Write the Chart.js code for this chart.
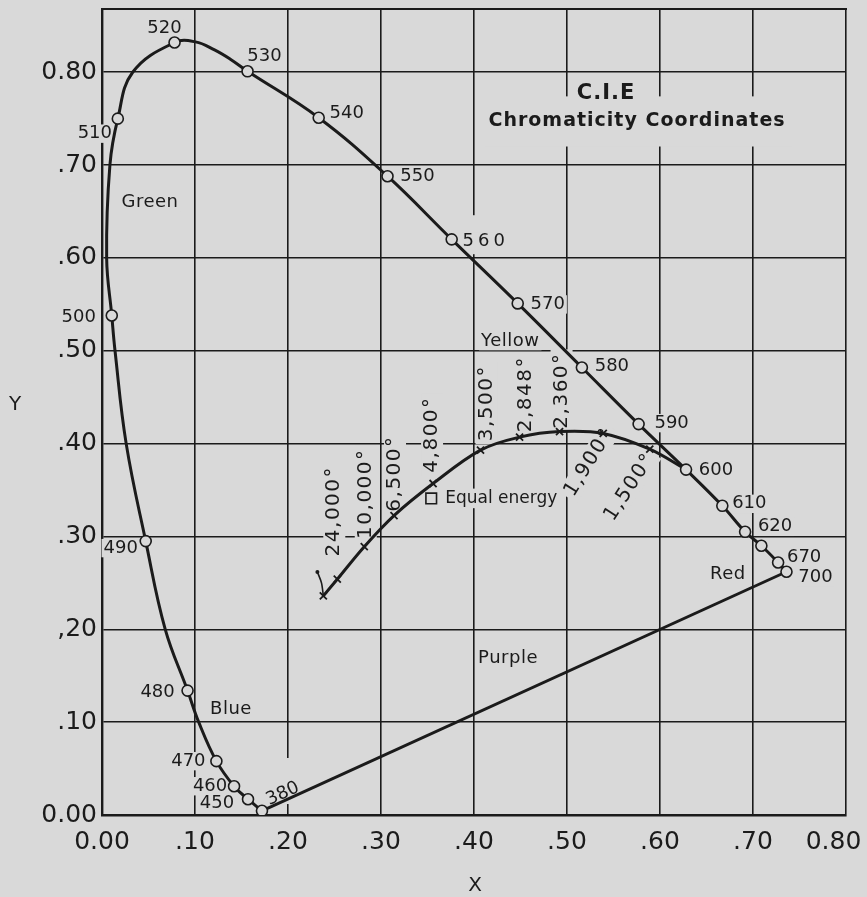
<!DOCTYPE html>
<html lang="en">
<head>
<meta charset="UTF-8" />
<title>C.I.E Chromaticity Coordinates</title>
<script src="https://cdn.jsdelivr.net/npm/chart.js"></script>
<style>
  html, body { margin: 0; padding: 0; background: #d9d9d9; }
  #wrap { width: 867px; height: 897px; }
</style>
</head>
<body>
<div id="wrap"><canvas id="cie" width="867" height="897"></canvas></div>
<script>
// spectral locus; null label = traced point on the curve (no circle)
const locusX = [0.172, 0.157, 0.142, 0.123, 0.104, 0.092, 0.068, 0.047, 0.026, 0.014, 0.0105,
  0.005, 0.0085, 0.017, 0.033, 0.078, 0.1005, 0.121, 0.138, 0.1565, 0.233, 0.307,
  0.376, 0.447, 0.516, 0.577, 0.628, 0.667, 0.6915, 0.709, 0.727, 0.736];
const locusY = [0.0045, 0.017, 0.031, 0.058, 0.100, 0.134, 0.200, 0.295, 0.400, 0.500, 0.538,
  0.600, 0.700, 0.750, 0.800, 0.832, 0.8327, 0.824, 0.814, 0.801, 0.751, 0.688,
  0.620, 0.551, 0.482, 0.421, 0.372, 0.333, 0.305, 0.290, 0.272, 0.262];
const locusLabels = ['380', '450', '460', '470', null, '480', null, '490', null, null, '500',
  null, null, '510', null, '520', null, null, null, '530', '540', '550',
  '560', '570', '580', '590', '600', '610', '620', '', '670', '700'];

// black body locus (null = end point on the 600 circle, no mark)
const planckX = [0.238, 0.253, 0.282, 0.314, 0.356, 0.407, 0.449, 0.492, 0.539, 0.589, 0.628];
const planckY = [0.236, 0.254, 0.289, 0.3225, 0.357, 0.393, 0.407, 0.413, 0.411, 0.394, 0.372];
const planckLabels = ['', '24,000°', '10,000°', '6,500°', '4,800°', '3,500°', '2,848°', '2,360°',
  '1,900°', '1,500°', null];

// little pen scribble at the blue end of the black body curve
const scribbleX = [0.2316, 0.236, 0.238];
const scribbleY = [0.2617, 0.250, 0.236];

const purpleX = [0.172, 0.736];
const purpleY = [0.0045, 0.262];

const equalEnergyX = [0.354];
const equalEnergyY = [0.341];

const xTickLabels = ['0.00', '.10', '.20', '.30', '.40', '.50', '.60', '.70', '0.80'];
const yTickLabels = ['0.00', '.10', ',20', '.30', '.40', '.50', '.60', '.70', '0.80'];

const regionNames = ['Green', 'Yellow', 'Red', 'Purple', 'Blue'];
const regionX = [0.0516, 0.439, 0.673, 0.4366, 0.1387];
const regionY = [0.660, 0.5104, 0.2595, 0.169, 0.1141];

const paper = '#d9d9d9';
const ink = '#1b1b1b';
const FONT = '"DejaVu Sans", "Liberation Sans", sans-serif';

// label placement, pixels from its mark: [dx, dy, rotation deg, letter spacing]
const nmLabelPos = {
  '380': [21, -17, -25], '450': [-31, 4], '460': [-24, 0], '470': [-28, 0], '480': [-30, 2],
  '490': [-25, 7], '500': [-33, 2], '510': [-23, 15], '520': [-10, -14], '530': [17, -15],
  '540': [28, -4], '550': [30, 0], '560': [34, 2, 0, 4], '570': [30, 1], '580': [30, -1],
  '590': [33, -1], '600': [30, 1], '610': [27, -2], '620': [30, -5], '670': [26, -5], '700': [29, 6]
};
const tempLabelPos = {
  '24,000°': [-3, -68, -90], '10,000°': [1.5, -53, -90], '6,500°': [1, -42, -90],
  '4,800°': [-1, -49, -90], '3,500°': [6, -47, -90], '2,848°': [6, -43, -90],
  '2,360°': [2, -41, -90], '1,900°': [-14, 29, -58], '1,500°': [-20, 38, -57]
};
// spots where the draughtsman left the grid out: [x0, y0, x1, y1] in data units
const gridGaps = [[0.411, 0.774, 0.742, 0.720], [0.387, 0.646, 0.441, 0.604], [0.172, 0.0614, 0.217, 0.0118]];

function textItems(chart) {
  const sx = chart.scales.x, sy = chart.scales.y;
  const items = [];
  locusLabels.forEach((t, i) => {
    if (!t) return;
    const o = nmLabelPos[t];
    items.push({ text: t, x: sx.getPixelForValue(locusX[i]) + o[0], y: sy.getPixelForValue(locusY[i]) + o[1],
      rot: o[2] || 0, spacing: o[3] || 0, size: 18, pad: 2 });
  });
  planckLabels.forEach((t, i) => {
    if (!t) return;
    const o = tempLabelPos[t];
    items.push({ text: t, x: sx.getPixelForValue(planckX[i]) + o[0], y: sy.getPixelForValue(planckY[i]) + o[1],
      rot: o[2], spacing: 1.5, size: 20, pad: 3 });
  });
  regionNames.forEach((t, i) => {
    items.push({ text: t, x: sx.getPixelForValue(regionX[i]), y: sy.getPixelForValue(regionY[i]),
      rot: 0, spacing: 0.5, size: 18, pad: 2 });
  });
  items.push({ text: 'Equal energy', x: sx.getPixelForValue(equalEnergyX[0]) + 70, y: sy.getPixelForValue(equalEnergyY[0]),
    rot: 0, spacing: 0, size: 17, pad: 3 });
  items.push({ text: 'C.I.E', x: sx.getPixelForValue(0.542), y: sy.getPixelForValue(0.7775),
    rot: 0, spacing: 1, size: 21, bold: true, pad: 0 });
  items.push({ text: 'Chromaticity Coordinates', x: sx.getPixelForValue(0.5753), y: sy.getPixelForValue(0.7479),
    rot: 0, spacing: 1, size: 19, bold: true, pad: 0 });
  return items;
}

function drawItem(ctx, it, mask) {
  ctx.save();
  ctx.translate(it.x, it.y);
  ctx.rotate(it.rot * Math.PI / 180);
  ctx.font = (it.bold ? 'bold ' : '') + it.size + 'px ' + FONT;
  ctx.letterSpacing = it.spacing + 'px';
  if (mask) {
    const w = ctx.measureText(it.text).width, h = it.size * 0.8;
    ctx.fillStyle = paper;
    ctx.fillRect(-w / 2 - it.pad, -h / 2 - it.pad, w + 2 * it.pad, h + 2 * it.pad);
  } else {
    ctx.fillStyle = ink;
    ctx.textAlign = 'center';
    ctx.textBaseline = 'middle';
    ctx.fillText(it.text, 0, 0);
  }
  ctx.restore();
}

const lettering = {
  id: 'lettering',
  beforeDatasetsDraw(chart) {
    const ctx = chart.ctx, a = chart.chartArea;
    const sx = chart.scales.x, sy = chart.scales.y;
    ctx.save();
    ctx.strokeStyle = ink;
    ctx.lineWidth = 2;
    ctx.beginPath();
    ctx.moveTo(a.left - 1, a.top);
    ctx.lineTo(a.right + 1, a.top);
    ctx.stroke();
    ctx.fillStyle = paper;
    gridGaps.forEach(g => {
      const x0 = sx.getPixelForValue(g[0]), y0 = sy.getPixelForValue(g[1]);
      const x1 = sx.getPixelForValue(g[2]), y1 = sy.getPixelForValue(g[3]);
      ctx.fillRect(x0, y0, x1 - x0, y1 - y0);
    });
    ctx.restore();
    textItems(chart).forEach(it => { if (it.pad) drawItem(ctx, it, true); });
  },
  afterDatasetsDraw(chart) {
    textItems(chart).forEach(it => drawItem(chart.ctx, it, false));
  },
  afterDraw(chart) {
    const ctx = chart.ctx, a = chart.chartArea;
    ctx.save();
    ctx.fillStyle = ink;
    ctx.font = '20px ' + FONT;
    ctx.textAlign = 'center';
    ctx.textBaseline = 'middle';
    ctx.fillText('X', (a.left + a.right) / 2 + 1, 886);
    ctx.fillText('Y', 15, 405);
    ctx.restore();
  }
};

const pts = (xs, ys) => xs.map((x, i) => ({ x, y: ys[i] }));

new Chart(document.getElementById('cie'), {
  type: 'scatter',
  data: {
    datasets: [
      {
        label: 'Spectral locus',
        data: pts(locusX, locusY),
        showLine: true,
        borderColor: ink,
        borderWidth: 3,
        tension: 0.4,
        pointRadius: c => locusLabels[c.dataIndex] === null ? 0 : 5.5,
        pointBackgroundColor: paper,
        pointBorderColor: ink,
        pointBorderWidth: 1.6
      },
      {
        label: 'Equal energy',
        data: pts(equalEnergyX, equalEnergyY),
        pointStyle: 'rect',
        pointRadius: 7.5,
        pointBackgroundColor: paper,
        pointBorderColor: ink,
        pointBorderWidth: 1.6
      },
      {
        label: 'Black body',
        data: pts(planckX, planckY),
        showLine: true,
        borderColor: ink,
        borderWidth: 3,
        tension: 0.35,
        pointStyle: 'crossRot',
        pointRadius: c => planckLabels[c.dataIndex] === null ? 0 : 5,
        pointBorderColor: ink,
        pointBorderWidth: 1.8
      },
      {
        label: 'scribble',
        data: pts(scribbleX, scribbleY),
        showLine: true,
        borderColor: ink,
        borderWidth: 1.6,
        tension: 0.3,
        pointRadius: c => c.dataIndex === 0 ? 2 : 0,
        pointBackgroundColor: ink,
        pointBorderWidth: 0
      },
      {
        label: 'Purple line',
        data: pts(purpleX, purpleY),
        showLine: true,
        borderColor: ink,
        borderWidth: 3,
        pointRadius: 0
      }
    ]
  },
  options: {
    responsive: false,
    animation: false,
    events: [],
    layout: { padding: { top: 9, right: 21, left: 0, bottom: 0 } },
    plugins: { legend: { display: false }, tooltip: { enabled: false } },
    scales: {
      x: {
        type: 'linear',
        min: 0,
        max: 0.8,
        ticks: {
          stepSize: 0.1,
          autoSkip: false,
          maxRotation: 0,
          padding: 12,
          color: ink,
          font: { family: FONT, size: 25 },
          callback: v => {
            const i = Math.round(v * 10);
            return i === 8 ? xTickLabels[i] + '\u2003' : xTickLabels[i];
          }
        },
        grid: { color: ink, lineWidth: 1.6, drawTicks: false },
        border: { color: ink, width: 2.4 },
        afterFit: s => { s.height = 82; s.paddingLeft = 0; s.paddingRight = 0; }
      },
      y: {
        type: 'linear',
        min: 0,
        max: 0.868,
        ticks: {
          stepSize: 0.1,
          includeBounds: false,
          padding: 5,
          color: ink,
          font: { family: FONT, size: 25 },
          callback: v => yTickLabels[Math.round(v * 10)]
        },
        grid: { color: ink, lineWidth: 1.6, drawTicks: false },
        border: { color: ink, width: 2.4 },
        afterFit: s => { s.width = 102; s.paddingTop = 0; s.paddingBottom = 0; }
      }
    }
  },
  plugins: [lettering]
});
</script>
</body>
</html>
